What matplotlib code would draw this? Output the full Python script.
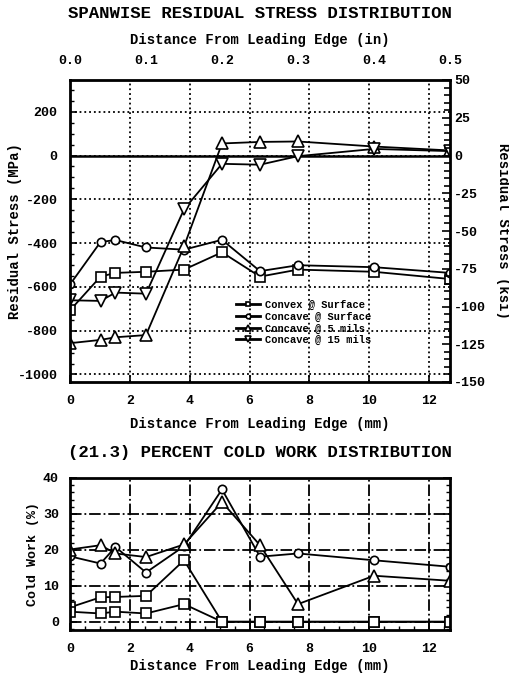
import numpy as np
import matplotlib.pyplot as plt
from matplotlib.ticker import MultipleLocator

plt.rcParams['font.family'] = ['Liberation Mono', 'DejaVu Sans']
plt.rcParams['font.weight'] = 'bold'

# distance from leading edge (mm)
x_mm = [0, 1.02, 1.52, 2.54, 3.81, 5.08, 6.35, 7.62, 10.16, 12.7]

# residual stress (MPa)
convex_surf = [-707, -553, -536, -531, -521, -442, -553, -521, -531, -564]
concave_surf = [-589, -395, -386, -420, -430, -385, -528, -501, -510, -536]
concave_5 = [-857, -842, -830, -820, -415, 55, 62, 64, 41, 23]
concave_15 = [-661, -664, -626, -631, -246, -38, -42, -3, 30, 20]
labels = ['Convex @ Surface', 'Concave @ Surface', 'Concave @ 5 mils', 'Concave @ 15 mils']

# cold work (%)
cw_circle = [18.2, 16.2, 20.8, 13.7, 21.0, 36.8, 18.1, 19.0, 17.1, 15.3]
cw_triangle = [20.1, 21.3, 19.0, 18.0, 21.5, 33.3, 21.3, 4.9, 12.8, 11.4]
cw_square_a = [4.0, 6.8, 6.9, 7.2, 17.1, 0, 0, 0, 0, 0]
cw_square_b = [2.8, 2.3, 2.8, 2.3, 4.9, 0, 0, 0, 0, 0]

MPA_PER_KSI = 6.895
W, H = 509, 673
fig = plt.figure(figsize=(W / 100, H / 100), dpi=100)


def px_axes(left, top, right, bottom):
    return fig.add_axes([left / W, 1 - bottom / H, (right - left) / W, (bottom - top) / H])


mk = dict(color='black', lw=1.3, mfc='white', mec='black', mew=1.2)
tickfont = 9.5

# ---------------- top: residual stress ----------------
ax = px_axes(70, 80, 450, 382)
ax.plot(x_mm, convex_surf, marker='s', ms=6.5, label=labels[0], **mk)
ax.plot(x_mm, concave_surf, marker='o', ms=6, label=labels[1], **mk)
ax.plot(x_mm, concave_5, marker='^', ms=8, label=labels[2], **mk)
ax.plot(x_mm, concave_15, marker='v', ms=8, label=labels[3], **mk)
ax.axhline(0, color='black', lw=1.8, zorder=1)

ax.set_xlim(0, 12.7)
ax.set_ylim(-150 * MPA_PER_KSI, 50 * MPA_PER_KSI)
ax.set_xticks(range(0, 13, 2))
ax.set_yticks([200, 0, -200, -400, -600, -800, -1000])
ax.set_yticklabels(['200', '0', '-200', '-400', '-600', '-800', '-1000'])
ax.yaxis.set_minor_locator(MultipleLocator(50))
ax.tick_params(direction='in', length=5, width=1.2, labelsize=tickfont, pad=9)
ax.tick_params(which='minor', direction='in', length=3, width=1)
ax.tick_params(axis='x', pad=9)
ax.grid(True, ls=':', lw=1.3, color='black')
for s in ax.spines.values():
    s.set_linewidth(2)

leg = ax.legend(loc='upper left', bbox_to_anchor=(0.425, 0.285), frameon=False,
                fontsize=7.5, handlelength=2.3, handletextpad=0.5,
                labelspacing=0.15, markerscale=0.55, borderaxespad=0)
for h in leg.get_lines():
    h.set_linewidth(2)

ax2 = ax.twinx()
ax2.set_ylim(-150, 50)
ax2.set_yticks([50, 25, 0, -25, -50, -75, -100, -125, -150])
ax2.set_yticklabels(['50', '25', '0', '-25', '-50', '-75', '-100', '-125', '-150'])
ax2.yaxis.set_minor_locator(MultipleLocator(5))
ax2.tick_params(direction='in', length=6, width=1.2, labelsize=tickfont, pad=3)
ax2.tick_params(which='minor', direction='in', length=4, width=1.2)

top = ax.secondary_xaxis('top', functions=(lambda v: v / 25.4, lambda v: v * 25.4))
top.set_xticks([0, 0.1, 0.2, 0.3, 0.4, 0.5])
top.set_xticklabels(['0.0', '0.1', '0.2', '0.3', '0.4', '0.5'])
top.tick_params(length=0, labelsize=tickfont, pad=9)

fig.text(260 / W, 1 - 13 / H, 'SPANWISE RESIDUAL STRESS DISTRIBUTION',
         ha='center', va='center', fontsize=12.5)
fig.text(260 / W, 1 - 40 / H, 'Distance From Leading Edge (in)',
         ha='center', va='center', fontsize=10)
fig.text(260 / W, 1 - 424 / H, 'Distance From Leading Edge (mm)',
         ha='center', va='center', fontsize=10)
fig.text(15 / W, 1 - 231 / H, 'Residual Stress (MPa)', rotation=90,
         ha='center', va='center', fontsize=10)
fig.text(503 / W, 1 - 231 / H, 'Residual Stress (ksi)', rotation=270,
         ha='center', va='center', fontsize=10)

# ---------------- bottom: cold work ----------------
bx = px_axes(70, 478, 450, 630)
bx.plot(x_mm, cw_circle, marker='o', ms=6, **mk)
bx.plot(x_mm, cw_triangle, marker='^', ms=8, **mk)
bx.plot(x_mm, cw_square_a, marker='s', ms=7, **mk)
bx.plot(x_mm, cw_square_b, marker='s', ms=7, **mk)
bx.set_xlim(0, 12.7)
bx.set_ylim(-2.3, 40)
bx.set_xticks(range(0, 13, 2))
bx.set_yticks([0, 10, 20, 30, 40])
bx.yaxis.set_minor_locator(MultipleLocator(2))
bx.xaxis.set_minor_locator(MultipleLocator(0.5))
bx.tick_params(direction='in', length=5, width=1.2, labelsize=tickfont, pad=8,
               right=True)
bx.tick_params(which='minor', direction='in', length=3, width=1, right=True)
bx.tick_params(axis='x', pad=9)
bx.grid(True, ls='-.', lw=1.3, color='black')
for s in bx.spines.values():
    s.set_linewidth(2)

fig.text(260 / W, 1 - 453 / H, '(21.3) PERCENT COLD WORK DISTRIBUTION',
         ha='center', va='center', fontsize=12.5)
fig.text(260 / W, 1 - 666 / H, 'Distance From Leading Edge (mm)',
         ha='center', va='center', fontsize=10)
fig.text(33 / W, 1 - 554 / H, 'Cold Work (%)', rotation=90,
         ha='center', va='center', fontsize=9.5)

fig.savefig('out.png', dpi=100)
